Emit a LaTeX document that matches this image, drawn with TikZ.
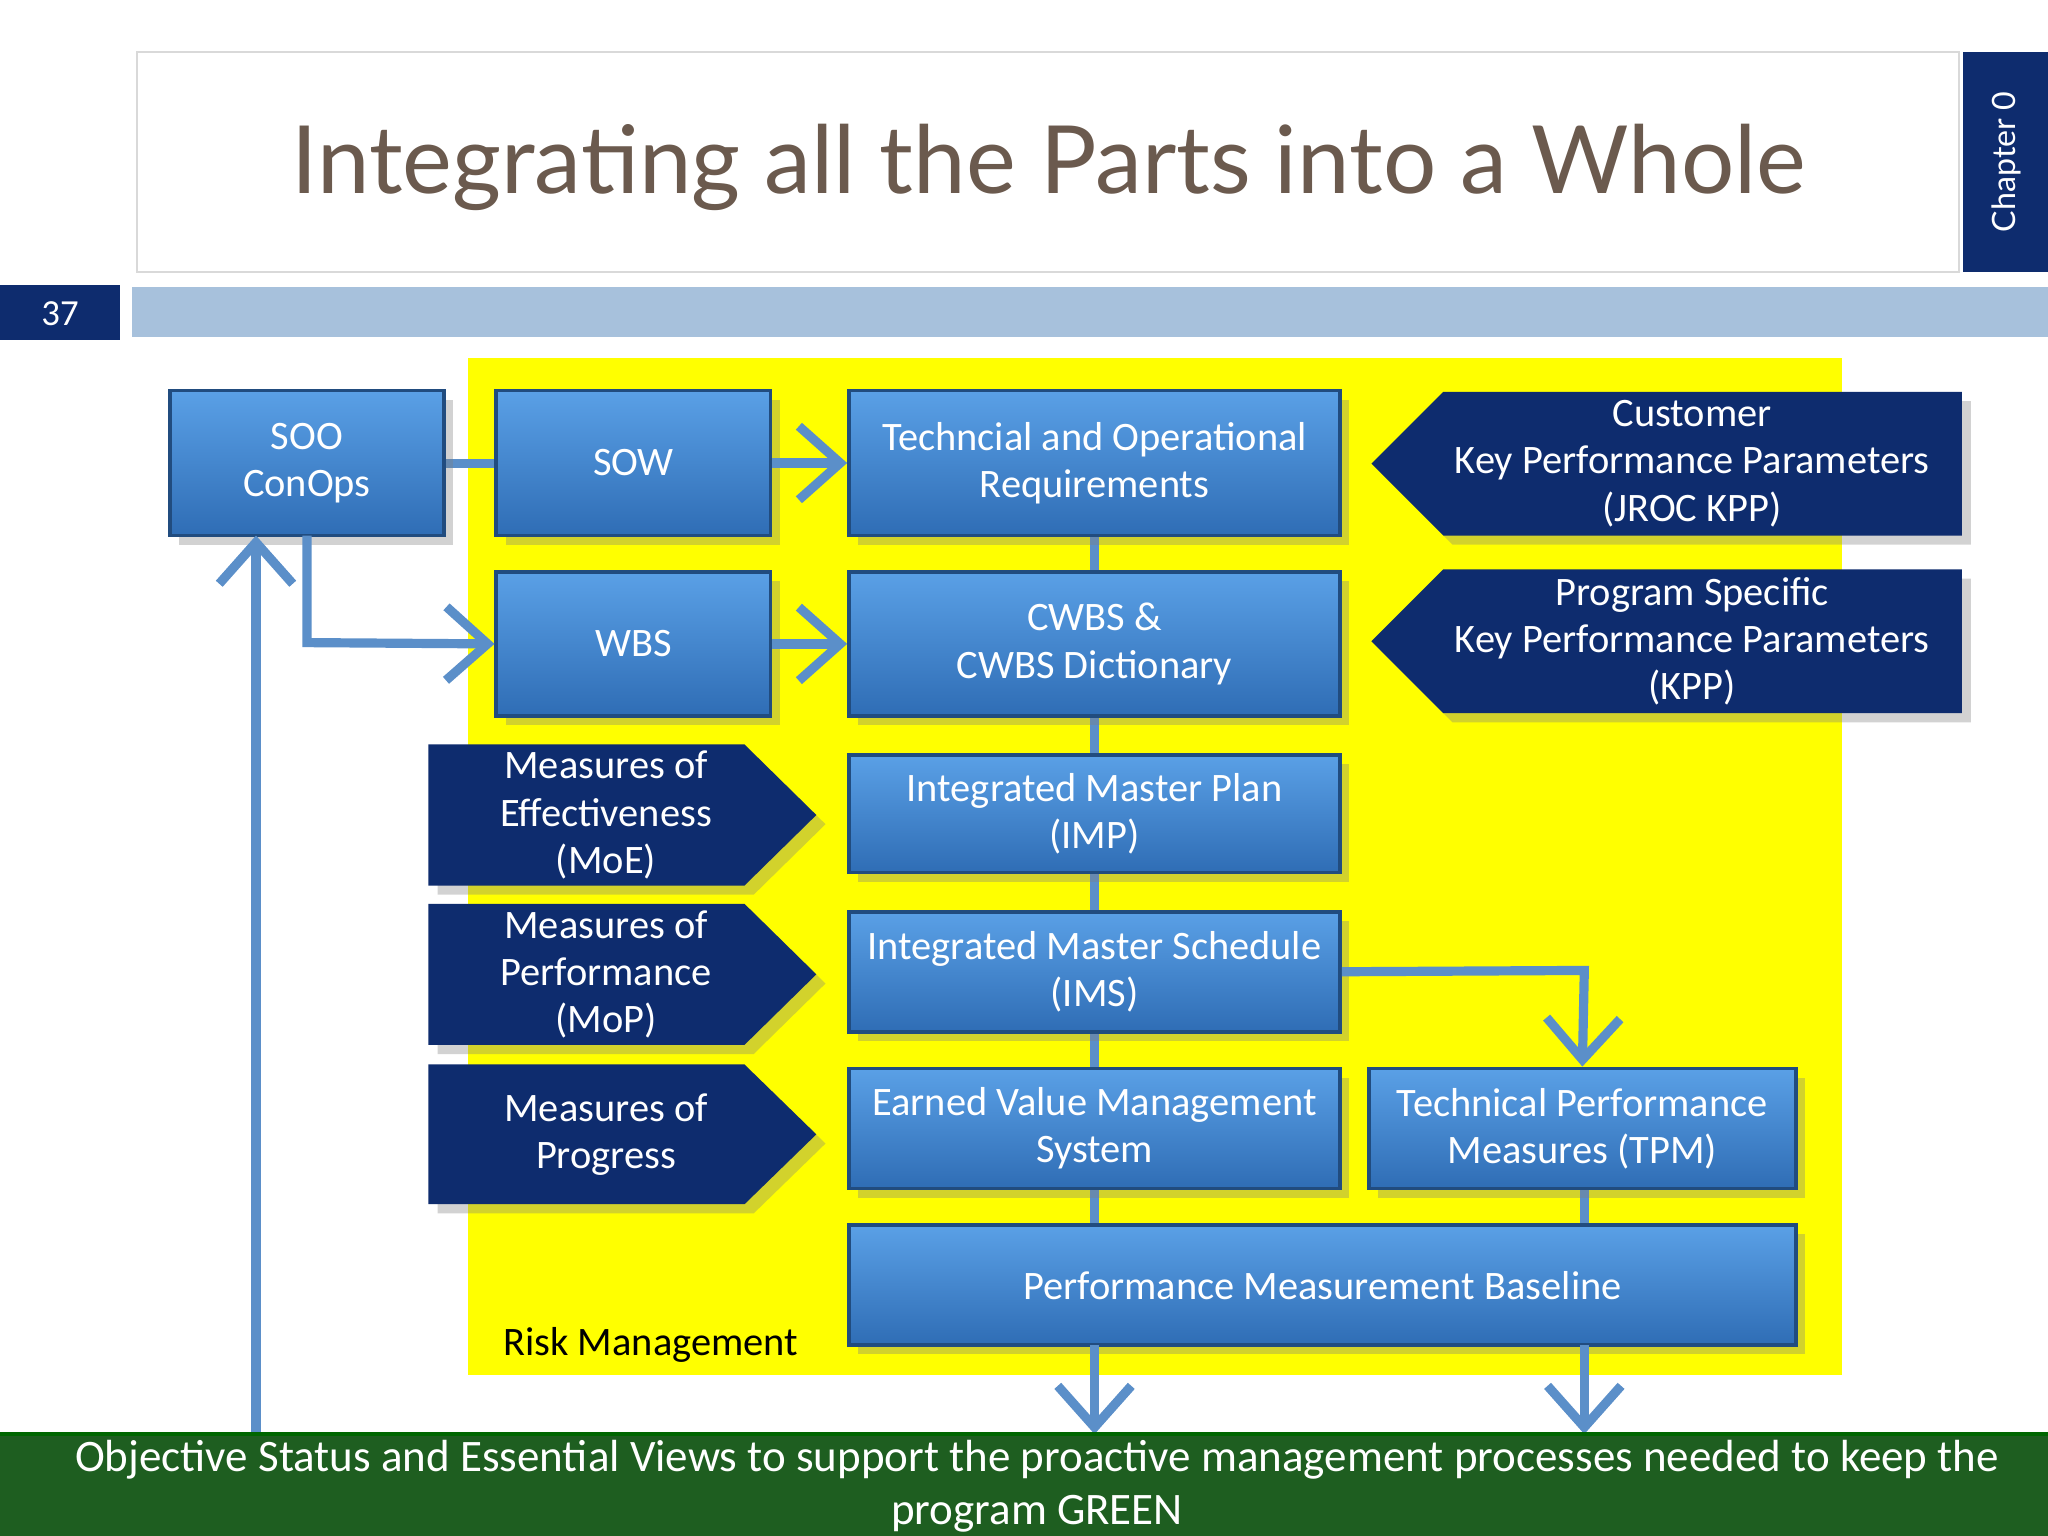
\documentclass[tikz,border=0pt]{standalone}
\usepackage{fontspec}
\setmainfont{Carlito}
\newfontfamily\ttl{Lato}
\usetikzlibrary{arrows.meta,shadows}
\definecolor{dkb}{HTML}{0E2C6E}
\definecolor{lb}{HTML}{A7C1DC}
\definecolor{ln}{HTML}{5B8FC9}
\definecolor{bxt}{HTML}{5AA0E6}
\definecolor{bxb}{HTML}{2F6DB5}
\definecolor{grn}{HTML}{1E5E20}
\definecolor{ttlc}{HTML}{6B5A4E}
\definecolor{yel}{HTML}{FFFF00}
\tikzset{
 box/.style={draw=bxb!70!black,line width=0.8pt,top color=bxt,bottom color=bxb,text=white,align=center,font=\fontsize{8.8}{10.3}\selectfont,inner sep=0pt,drop shadow={shadow xshift=2pt,shadow yshift=-2pt,opacity=0.35}},
 dk/.style={fill=dkb,drop shadow={shadow xshift=2pt,shadow yshift=-2pt,opacity=0.35}},
 dkt/.style={text=white,align=center,font=\fontsize{8.8}{10.3}\selectfont},
 con/.style={draw=ln,line width=2pt},
 arr/.style={con,-{Straight Barb[length=9pt,width=16pt,line width=2pt]}},
}
\newcommand\bx[6]{\node[box,minimum width={(#4-#2)*0.01cm},minimum height={(#5-#3)*0.01cm}] (#1) at ({(#2+#4)/2},{(#3+#5)/2}) {#6};}
\newcommand\pl[6]{\fill[dk] (#2,{(#3+#5)/2}) -- ({#2+55},#3) -- (#4,#3) -- (#4,#5) -- ({#2+55},#5) -- cycle;
 \node[dkt] (#1) at ({(#2+55+#4)/2-8},{(#3+#5)/2}) {#6};}
\newcommand\pr[6]{\fill[dk] (#2,#3) -- ({#4-55},#3) -- (#4,{(#3+#5)/2}) -- ({#4-55},#5) -- (#2,#5) -- cycle;
 \node[dkt] (#1) at ({(#2+#4-55)/2+15},{(#3+#5)/2}) {#6};}
\begin{document}
\begin{tikzpicture}[x=0.01cm,y=-0.01cm]
\useasboundingbox (0,0) rectangle (1568,1176);
\fill[white] (0,0) rectangle (1568,1176);
\draw[gray!30,fill=white] (105,40) rectangle (1500,208);
\node[text=ttlc,font=\ttl\fontsize{20.5}{24}\selectfont] (title) at (803,128) {Integrating all the Parts into a Whole};
\fill[dkb] (1503,40) rectangle (1568,208);
\node[rotate=90,text=white,font=\ttl\fontsize{7}{8}\selectfont] (chap) at (1536,124) {Chapter 0};
\fill[dkb] (0,218) rectangle (92,260);
\node[text=white,font=\fontsize{8}{9}\selectfont] (num) at (46,240) {37};
\fill[lb] (101,220) rectangle (1568,258);
\fill[yel] (358,274) rectangle (1410,1053);
\node[anchor=west,font=\fontsize{8.8}{10}\selectfont] (risk) at (373,1030) {Risk Management};
\coordinate (g1) at (838,1098);
\coordinate (g2) at (1213,1098);
\coordinate (g0) at (196,1098);
\draw[con] (838,410) -- (838,938);
\draw[con] (1213,910) -- (1213,938);
\draw[con] (340,355) -- (380,355);
\bx{soo}{130}{299}{340}{410}{SOO\\ConOps}
\bx{sow}{380}{299}{590}{410}{SOW}
\bx{tor}{650}{299}{1026}{410}{Techncial and Operational\\Requirements}
\bx{wbs}{380}{438}{590}{548}{WBS}
\bx{cwbs}{650}{438}{1026}{548}{CWBS \&\\CWBS Dictionary}
\bx{imp}{650}{578}{1026}{668}{Integrated Master Plan\\(IMP)}
\bx{ims}{650}{698}{1026}{790}{Integrated Master Schedule\\(IMS)}
\bx{evms}{650}{818}{1026}{910}{Earned Value Management\\System}
\bx{tpm}{1048}{818}{1375}{910}{Technical Performance\\Measures (TPM)}
\bx{pmb}{650}{938}{1375}{1030}{Performance Measurement Baseline}
\pl{kpp1}{1050}{300}{1502}{410}{Customer\\Key Performance Parameters\\(JROC KPP)}
\pl{kpp2}{1050}{436}{1502}{546}{Program Specific\\Key Performance Parameters\\(KPP)}
\pr{moe}{328}{570}{625}{678}{Measures of\\Effectiveness\\(MoE)}
\pr{mop}{328}{692}{625}{800}{Measures of\\Performance\\(MoP)}
\pr{mopr}{328}{815}{625}{922}{Measures of\\Progress}
\draw[arr] (sow.east) -- (tor.west);
\draw[arr] (wbs.east) -- (cwbs.west);
\draw[arr] (235,410) -- (235,492) -- (wbs.west);
\draw[arr] (ims.east) -- (1213,743) -- (tpm.north);
\draw[arr] (838,1030) -- (g1);
\draw[arr] (1213,1030) -- (g2);
\draw[arr] (g0) -- (196,410);
\fill[grn] (0,1098) rectangle (1568,1176);
\draw[green!40!black,line width=1pt] (0,1098) -- (1568,1098);
\node[text=white,align=center,font=\fontsize{9.8}{11.5}\selectfont] (gt) at (794,1138) {Objective Status and Essential Views to support the proactive management processes needed to keep the\\program GREEN};
\end{tikzpicture}
\end{document}
